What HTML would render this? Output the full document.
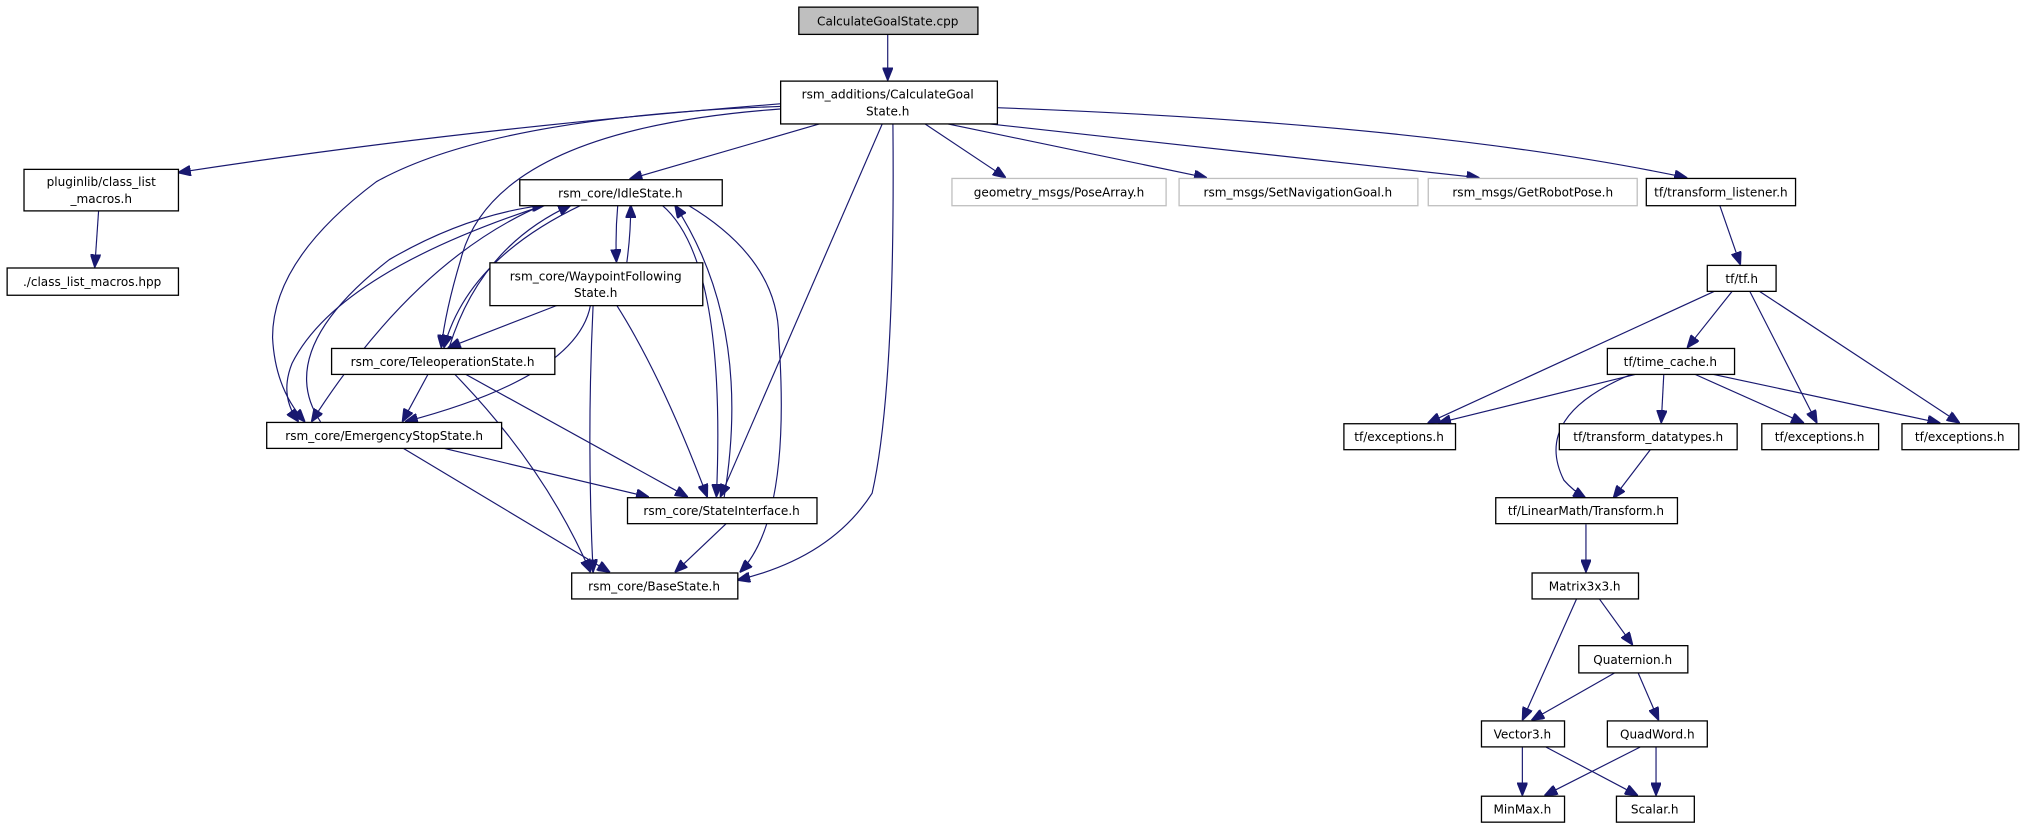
<!DOCTYPE html>
<html><head><meta charset="utf-8"><style>
html,body{margin:0;padding:0;background:#fff;}
svg{display:block;}
text{font-family:"DejaVu Sans","Liberation Sans",sans-serif;font-size:9.3px;fill:#000;text-anchor:middle;}
.n{fill:#fff;stroke:#000;stroke-width:1;}
.g{fill:#fff;stroke:#bfbfbf;stroke-width:1;}
.e{fill:none;stroke:#191970;stroke-width:0.9;marker-end:url(#a);}
</style></head><body>
<svg width="2035" height="828" viewBox="0 0 1568 638" preserveAspectRatio="none" xmlns="http://www.w3.org/2000/svg">
<defs><marker id="a" markerUnits="userSpaceOnUse" markerWidth="10" markerHeight="8" refX="10" refY="4" orient="auto"><path d="M0,0 L10,4 L0,8 z" fill="#191970" stroke="#191970"/></marker></defs>

<!-- edges -->
<path class="e" d="M684,26 L684,62"/>
<path class="e" d="M601,80 Q350,100 137,133"/>
<path class="e" d="M633,95 L485,138"/>
<path class="e" d="M601,84 Q380,100 355,200 Q343,240 340,268"/>
<path class="e" d="M601,82 Q380,90 290,140 Q210,200 210,260 Q212,300 235,325"/>
<path class="e" d="M680,95 L555,383"/>
<path class="e" d="M688,95 Q690,300 672,380 Q640,430 568,447"/>
<path class="e" d="M712,95 L775,137"/>
<path class="e" d="M728,95 L930,137"/>
<path class="e" d="M758,95 L1140,137"/>
<path class="e" d="M768,83 Q1100,95 1300,137"/>
<path class="e" d="M76,162 L73,206"/>
<!-- IdleState cluster -->
<path class="e" d="M476,158 Q474,180 475,202"/>
<path class="e" d="M483,202 Q486,180 486,158"/>
<path class="e" d="M448,158 Q360,200 342,268"/>
<path class="e" d="M346,268 Q370,190 440,158"/>
<path class="e" d="M418,158 Q320,200 240,325"/>
<path class="e" d="M247,325 Q210,270 300,200 Q360,165 420,158"/>
<path class="e" d="M420,158 Q260,210 225,280 Q215,305 230,325"/>
<path class="e" d="M510,158 Q560,200 552,383"/>
<path class="e" d="M558,383 Q580,250 520,158"/>
<path class="e" d="M530,158 Q600,200 600,260 Q610,400 570,441"/>
<!-- Waypoint -->
<path class="e" d="M430,235 L345,268"/>
<path class="e" d="M455,235 Q445,290 312,325"/>
<path class="e" d="M475,235 Q510,290 545,383"/>
<path class="e" d="M457,235 Q452,340 457,441"/>
<!-- Teleop -->
<path class="e" d="M330,288 L310,325"/>
<path class="e" d="M358,288 L530,383"/>
<path class="e" d="M350,288 Q420,360 455,441"/>
<!-- Emergency -->
<path class="e" d="M340,345 L500,383"/>
<path class="e" d="M310,345 L470,441"/>
<path class="e" d="M560,403 L520,441"/>
<!-- tf -->
<path class="e" d="M1325,158 L1341,204"/>
<path class="e" d="M1335,224 L1300,268"/>
<path class="e" d="M1322,224 L1100,326"/>
<path class="e" d="M1348,224 L1400,326"/>
<path class="e" d="M1355,224 L1510,326"/>
<path class="e" d="M1262,288 L1108,326"/>
<path class="e" d="M1282,288 L1280,326"/>
<path class="e" d="M1305,288 L1390,326"/>
<path class="e" d="M1318,288 L1495,326"/>
<path class="e" d="M1258,288 Q1180,320 1205,370 Q1212,378 1222,384"/>
<path class="e" d="M1272,346 L1243,384"/>
<path class="e" d="M1222,404 L1222,441"/>
<path class="e" d="M1232,461 L1258,497"/>
<path class="e" d="M1215,461 L1173,555"/>
<path class="e" d="M1245,518 L1180,555"/>
<path class="e" d="M1262,518 L1278,555"/>
<path class="e" d="M1173,575 L1173,613"/>
<path class="e" d="M1190,575 L1262,613"/>
<path class="e" d="M1265,575 L1190,613"/>
<path class="e" d="M1276,575 L1276,613"/>

<!-- nodes -->
<rect x="615.5" y="5.5" width="138" height="21" fill="#bfbfbf" stroke="#000"/><text x="684" y="19.5">CalculateGoalState.cpp</text>
<rect class="n" x="601.5" y="62.5" width="167" height="33"/><text x="684" y="76">rsm_additions/CalculateGoal</text><text x="684" y="89">State.h</text>
<rect class="n" x="18.5" y="130.5" width="119" height="32"/><text x="78" y="143.5">pluginlib/class_list</text><text x="78" y="156.5">_macros.h</text>
<rect class="n" x="5.5" y="206.5" width="132" height="21"/><text x="71" y="220.5">./class_list_macros.hpp</text>
<rect class="n" x="400.5" y="138.5" width="156" height="20"/><text x="478" y="152">rsm_core/IdleState.h</text>
<rect class="n" x="377.5" y="202.5" width="164" height="33"/><text x="459" y="216">rsm_core/WaypointFollowing</text><text x="459" y="229">State.h</text>
<rect class="n" x="255.5" y="268.5" width="172" height="20"/><text x="341" y="282">rsm_core/TeleoperationState.h</text>
<rect class="n" x="205.5" y="325.5" width="181" height="20"/><text x="296" y="339">rsm_core/EmergencyStopState.h</text>
<rect class="n" x="483.5" y="383.5" width="146" height="20"/><text x="556" y="397">rsm_core/StateInterface.h</text>
<rect class="n" x="440.5" y="441.5" width="128" height="20"/><text x="504" y="455">rsm_core/BaseState.h</text>
<rect class="g" x="733.5" y="137.5" width="165" height="21"/><text x="816" y="151.5">geometry_msgs/PoseArray.h</text>
<rect class="g" x="908.5" y="137.5" width="184" height="21"/><text x="1000" y="151.5">rsm_msgs/SetNavigationGoal.h</text>
<rect class="g" x="1100.5" y="137.5" width="161" height="21"/><text x="1181" y="151.5">rsm_msgs/GetRobotPose.h</text>
<rect class="n" x="1268.5" y="137.5" width="115" height="21"/><text x="1326" y="151.5">tf/transform_listener.h</text>
<rect class="n" x="1315.5" y="204.5" width="53" height="20"/><text x="1342" y="218">tf/tf.h</text>
<rect class="n" x="1238.5" y="268.5" width="98" height="20"/><text x="1287" y="282">tf/time_cache.h</text>
<rect class="n" x="1035.5" y="326.5" width="86" height="20"/><text x="1078" y="340">tf/exceptions.h</text>
<rect class="n" x="1201.5" y="326.5" width="137" height="20"/><text x="1270" y="340">tf/transform_datatypes.h</text>
<rect class="n" x="1357.5" y="326.5" width="90" height="20"/><text x="1402" y="340">tf/exceptions.h</text>
<rect class="n" x="1465.5" y="326.5" width="90" height="20"/><text x="1510" y="340">tf/exceptions.h</text>
<rect class="n" x="1152.5" y="383.5" width="140" height="20"/><text x="1222" y="397">tf/LinearMath/Transform.h</text>
<rect class="n" x="1180.5" y="441.5" width="82" height="20"/><text x="1221" y="455">Matrix3x3.h</text>
<rect class="n" x="1216.5" y="497.5" width="84" height="21"/><text x="1258" y="511.5">Quaternion.h</text>
<rect class="n" x="1141.5" y="555.5" width="64" height="20"/><text x="1173" y="569">Vector3.h</text>
<rect class="n" x="1238.5" y="555.5" width="77" height="20"/><text x="1277" y="569">QuadWord.h</text>
<rect class="n" x="1141.5" y="613.5" width="64" height="20"/><text x="1173" y="627">MinMax.h</text>
<rect class="n" x="1245.5" y="613.5" width="60" height="20"/><text x="1275" y="627">Scalar.h</text>
</svg>
</body></html>
